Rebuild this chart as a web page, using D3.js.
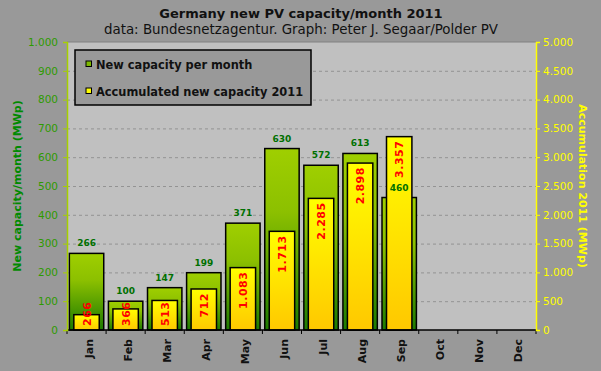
<!DOCTYPE html>
<html>
<head>
<meta charset="utf-8">
<script src="https://cdn.jsdelivr.net/npm/d3@7"></script>
<style>
  body { margin: 0; background: #999999; }
  svg { display: block; font-family: "DejaVu Sans", Verdana, sans-serif; }
</style>
</head>
<body>
<svg id="chart" width="601" height="371"></svg>
<script>
const months = ["Jan", "Feb", "Mar", "Apr", "May", "Jun", "Jul", "Aug", "Sep", "Oct", "Nov", "Dec"];
const monthly = [266, 100, 147, 199, 371, 630, 572, 613, 460];
const accumulated = [266, 366, 513, 712, 1083, 1713, 2285, 2898, 3357];
const leftTicks = [0, 100, 200, 300, 400, 500, 600, 700, 800, 900, 1000];
const rightTicks = [0, 500, 1000, 1500, 2000, 2500, 3000, 3500, 4000, 4500, 5000];

const W = 601, H = 371;
const margin = { top: 42, right: 65, bottom: 41, left: 67 };
const svg = d3.select("#chart");

const loc = d3.formatLocale({ decimal: ",", thousands: ".", grouping: [3], currency: ["", ""] });
const fmt = loc.format(",d");

const x = d3.scaleBand().domain(months).range([margin.left, W - margin.right]);
const yL = d3.scaleLinear().domain([0, 1000]).range([H - margin.bottom, margin.top]);
const yR = d3.scaleLinear().domain([0, 5000]).range([H - margin.bottom, margin.top]);
const base = H - margin.bottom;

// gradients
const defs = svg.append("defs");
const gGreen = defs.append("linearGradient").attr("id", "gGreen")
  .attr("x1", 0).attr("y1", 0).attr("x2", 0).attr("y2", 1);
gGreen.append("stop").attr("offset", 0).attr("stop-color", "#9fcf00");
gGreen.append("stop").attr("offset", 0.35).attr("stop-color", "#8cc000");
gGreen.append("stop").attr("offset", 1).attr("stop-color", "#1c7a00");
const gYellow = defs.append("linearGradient").attr("id", "gYellow")
  .attr("x1", 0).attr("y1", 0).attr("x2", 0).attr("y2", 1);
gYellow.append("stop").attr("offset", 0).attr("stop-color", "#ffff00");
gYellow.append("stop").attr("offset", 1).attr("stop-color", "#ffc800");

// plot area
svg.append("rect")
  .attr("x", margin.left).attr("y", margin.top)
  .attr("width", W - margin.left - margin.right)
  .attr("height", H - margin.top - margin.bottom)
  .attr("fill", "#c0c0c0");
svg.append("line")
  .attr("x1", margin.left).attr("x2", W - margin.right)
  .attr("y1", margin.top).attr("y2", margin.top)
  .attr("stroke", "#808080");

// grid
svg.append("g").selectAll("line")
  .data(leftTicks.filter(d => d > 0 && d < 1000))
  .join("line")
  .attr("x1", margin.left).attr("x2", W - margin.right)
  .attr("y1", d => yL(d) + 0.5).attr("y2", d => yL(d) + 0.5)
  .attr("stroke", "#939393")
  .attr("stroke-dasharray", "3,3");

// titles
svg.append("text")
  .attr("x", 301).attr("y", 18)
  .attr("text-anchor", "middle")
  .attr("font-weight", "bold").attr("font-size", 13)
  .attr("fill", "#111")
  .text("Germany new PV capacity/month 2011");
svg.append("text")
  .attr("x", 301).attr("y", 34)
  .attr("text-anchor", "middle")
  .attr("font-size", 13.4)
  .attr("fill", "#111")
  .text("data: Bundesnetzagentur. Graph: Peter J. Segaar/Polder PV");

// bars
const bw = x.bandwidth();
const data = monthly.map((v, i) => ({ month: months[i], v, acc: accumulated[i] }));

svg.append("g").selectAll("rect")
  .data(data)
  .join("rect")
  .attr("x", d => x(d.month) + bw * 0.06)
  .attr("width", bw * 0.88)
  .attr("y", d => yL(d.v))
  .attr("height", d => base - yL(d.v))
  .attr("fill", "url(#gGreen)")
  .attr("stroke", "#000")
  .attr("stroke-width", 1.5);

svg.append("g").selectAll("rect")
  .data(data)
  .join("rect")
  .attr("x", d => x(d.month) + bw * 0.175)
  .attr("width", bw * 0.65)
  .attr("y", d => yR(d.acc))
  .attr("height", d => base - yR(d.acc))
  .attr("fill", "url(#gYellow)")
  .attr("stroke", "#000")
  .attr("stroke-width", 1.5);

// red labels in accumulated bars
svg.append("g").selectAll("text")
  .data(data)
  .join("text")
  .attr("text-anchor", "end")
  .attr("dy", "0.36em")
  .attr("font-weight", "bold").attr("font-size", 11)
  .attr("letter-spacing", 0.5)
  .attr("fill", "#ff0000")
  .text(d => fmt(d.acc))
  .attr("transform", function (d) {
    const len = this.getComputedTextLength();
    const top = Math.min(yR(d.acc) + 4, base - 4 - len);
    return `translate(${x(d.month) + bw / 2},${top}) rotate(-90)`;
  });

// green labels above monthly bars
svg.append("g").selectAll("text")
  .data(data)
  .join("text")
  .attr("x", d => x(d.month) + bw / 2)
  .attr("y", d => yL(d.v) - 7)
  .attr("text-anchor", "middle")
  .attr("font-weight", "bold").attr("font-size", 9)
  .attr("fill", "#007000")
  .text(d => fmt(d.v));

// x axis
const xa = svg.append("g");
xa.append("line")
  .attr("x1", margin.left).attr("x2", W - margin.right)
  .attr("y1", base).attr("y2", base)
  .attr("stroke", "#000").attr("stroke-width", 1.5);
xa.selectAll("line.tick")
  .data(months.map(m => x(m)).concat([x.range()[1]]))
  .join("line")
  .attr("class", "tick")
  .attr("x1", d => d).attr("x2", d => d)
  .attr("y1", base).attr("y2", base + 4)
  .attr("stroke", "#000");
xa.selectAll("text")
  .data(months)
  .join("text")
  .attr("transform", d => `translate(${x(d) + bw / 2 + 2},${base + 9}) rotate(-90)`)
  .attr("text-anchor", "end")
  .attr("dy", "0.36em")
  .attr("font-weight", "bold").attr("font-size", 11)
  .attr("fill", "#111")
  .text(d => d);

// left axis
const la = svg.append("g")
  .attr("transform", `translate(${margin.left},0)`)
  .call(d3.axisLeft(yL).tickValues(leftTicks).tickFormat(fmt).tickSize(4).tickPadding(5));
la.select(".domain").attr("stroke", "#a6d000").attr("stroke-width", 1.5);
la.selectAll(".tick line").attr("stroke", "#a6d000");
la.selectAll(".tick text")
  .attr("fill", "#2e9a00")
  .attr("font-family", "DejaVu Sans, Verdana, sans-serif")
  .attr("font-size", 10.5);

// right axis
const ra = svg.append("g")
  .attr("transform", `translate(${W - margin.right},0)`)
  .call(d3.axisRight(yR).tickValues(rightTicks).tickFormat(fmt).tickSize(4).tickPadding(3));
ra.select(".domain").attr("stroke", "#ffff00").attr("stroke-width", 1.5);
ra.selectAll(".tick line").attr("stroke", "#ffff00");
ra.selectAll(".tick text")
  .attr("fill", "#ffff00")
  .attr("font-family", "DejaVu Sans, Verdana, sans-serif")
  .attr("font-size", 10.5);

// axis titles
const midY = (margin.top + base) / 2;
svg.append("text")
  .attr("transform", `translate(17,${midY}) rotate(-90)`)
  .attr("text-anchor", "middle")
  .attr("dy", "0.36em")
  .attr("font-weight", "bold").attr("font-size", 11)
  .attr("fill", "#008a00")
  .text("New capacity/month (MWp)");
svg.append("text")
  .attr("transform", `translate(583,${midY}) rotate(90)`)
  .attr("text-anchor", "middle")
  .attr("dy", "0.36em")
  .attr("font-weight", "bold").attr("font-size", 11)
  .attr("fill", "#ffff00")
  .text("Accumulation 2011 (MWp)");

// legend
const lg = svg.append("g");
lg.append("rect")
  .attr("x", 75).attr("y", 50).attr("width", 236).attr("height", 55)
  .attr("fill", "#999999").attr("stroke", "#000").attr("stroke-width", 1.5);
const legendItems = [
  { label: "New capacity per month", color: "#7cb800" },
  { label: "Accumulated new capacity 2011", color: "#ffff00" }
];
legendItems.forEach((it, i) => {
  const y = 61 + i * 27;
  lg.append("rect")
    .attr("x", 86).attr("y", y).attr("width", 5.5).attr("height", 5.5)
    .attr("fill", it.color).attr("stroke", "#000");
  lg.append("text")
    .attr("x", 96).attr("y", y + 7.5)
    .attr("font-weight", "bold").attr("font-size", 11.4)
    .attr("fill", "#111")
    .text(it.label);
});
</script>
</body>
</html>
